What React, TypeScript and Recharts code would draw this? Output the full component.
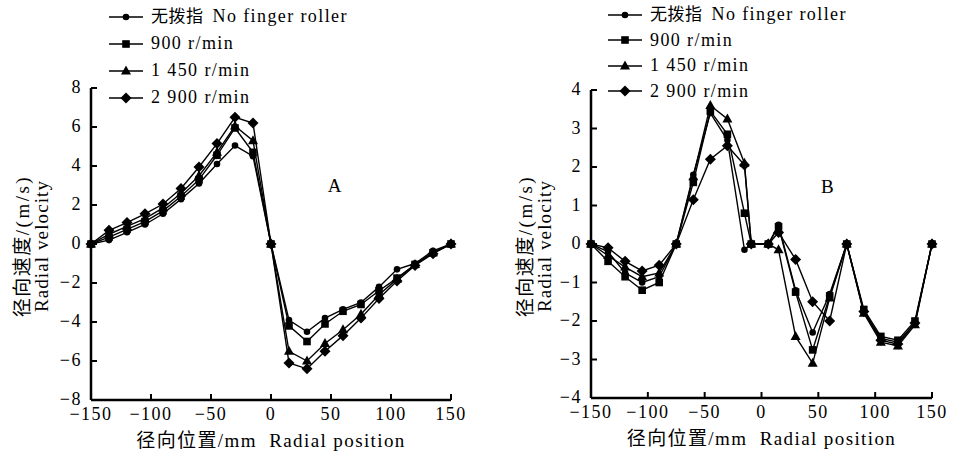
import React from 'react';
import {
  LineChart,
  Line,
  XAxis,
  YAxis,
  Legend,
  ReferenceDot,
} from 'recharts';

// radial positions (mm)
const posA = [-150, -135, -120, -105, -90, -75, -60, -45, -30, -15, 0, 15, 30, 45, 60, 75, 90, 105, 120, 135, 150];
const posB = [-150, -135, -120, -105, -90, -75, -60, -45, -30, -15, -9, 6, 15, 30, 45, 60, 75, 90, 105, 120, 135, 150];

// chart A radial velocity (m/s)
const noneA = [0, 0.2, 0.6, 1.0, 1.55, 2.3, 3.1, 4.1, 5.05, 4.5, 0, -3.9, -4.5, -3.8, -3.35, -3.0, -2.2, -1.3, -1.0, -0.35, 0];
const r900A = [0, 0.35, 0.75, 1.15, 1.7, 2.45, 3.3, 4.55, 5.95, 4.7, 0, -4.2, -5.0, -4.1, -3.45, -3.1, -2.4, -1.75, -1.05, -0.45, 0];
const r1450A = [0, 0.5, 0.9, 1.3, 1.85, 2.6, 3.5, 4.7, 6.05, 5.3, 0, -5.5, -6.0, -5.1, -4.4, -3.6, -2.6, -1.8, -1.05, -0.45, 0];
const r2900A = [0, 0.7, 1.1, 1.55, 2.05, 2.85, 3.95, 5.15, 6.5, 6.2, 0, -6.1, -6.4, -5.5, -4.7, -3.8, -2.8, -1.9, -1.1, -0.5, 0];

// chart B radial velocity (m/s)
const noneB = [0, -0.2, -0.75, -1.0, -0.85, 0, 1.8, 3.4, 2.7, -0.15, 0, 0, 0.5, -1.2, -2.3, -1.3, 0, -1.75, -2.45, -2.55, -2.05, 0];
const r900B = [0, -0.45, -0.85, -1.2, -1.0, 0, 1.6, 3.45, 2.85, 0.8, 0, 0, 0.45, -1.25, -2.75, -1.35, 0, -1.7, -2.4, -2.5, -2.0, 0];
const r1450B = [0, -0.3, -0.6, -0.85, -0.75, 0, 1.75, 3.6, 3.25, 2.1, 0, 0, -0.15, -2.4, -3.1, -1.4, 0, -1.8, -2.55, -2.65, -2.1, 0];
const r2900B = [0, -0.1, -0.45, -0.7, -0.55, 0, 1.15, 2.2, 2.55, 2.05, 0, 0, 0.3, -0.4, -1.5, -2.0, 0, -1.75, -2.5, -2.6, -2.05, 0];

const xTicks = [-150, -100, -50, 0, 50, 100, 150];
const yTicksA = [-8, -6, -4, -2, 0, 2, 4, 6, 8];
const yTicksB = [-4, -3, -2, -1, 0, 1, 2, 3, 4];

const seriesNames = ['无拨指  No finger roller', '900 r/min', '1 450 r/min', '2 900 r/min'];
const seriesKeys = ['none', 'r900', 'r1450', 'r2900'];
const markers = ['circle', 'square', 'triangle', 'diamond'];

const xLabelCn = '径向位置';
const xLabelEn = '/mm\u00a0\u00a0Radial position';
const yLabelCn = '径向速度';
const yLabelUnit = '/(m/s)';
const yLabelEn = 'Radial velocity';

const FONT = "'Liberation Serif', 'Noto Sans CJK SC', serif";

const buildRows = (pos: number[], cols: number[][]) =>
  pos.map((x, i) => ({
    x,
    none: cols[0][i],
    r900: cols[1][i],
    r1450: cols[2][i],
    r2900: cols[3][i],
  }));

const dataA = buildRows(posA, [noneA, r900A, r1450A, r2900A]);
const dataB = buildRows(posB, [noneB, r900B, r1450B, r2900B]);

const fmt = (v: number) => String(v).replace('-', '\u2212');

const MarkerShape = ({ cx, cy, kind }: any) => {
  if (cx == null || cy == null) return null;
  if (kind === 'circle') return <circle cx={cx} cy={cy} r={3.3} fill="#000" />;
  if (kind === 'square') return <rect x={cx - 3.8} y={cy - 3.8} width={7.6} height={7.6} fill="#000" />;
  if (kind === 'triangle')
    return <polygon points={`${cx},${cy - 5.5} ${cx + 5},${cy + 3.5} ${cx - 5},${cy + 3.5}`} fill="#000" />;
  return <polygon points={`${cx},${cy - 5.5} ${cx + 5.5},${cy} ${cx},${cy + 5.5} ${cx - 5.5},${cy}`} fill="#000" />;
};

const XTick = ({ x, y, payload }: any) => (
  <g>
    <line x1={x} x2={x} y1={y} y2={y - 6} stroke="#000" strokeWidth={2} />
    <text x={x} y={y + 20} textAnchor="middle" fontSize={18} letterSpacing={1.5} fill="#000" fontFamily={FONT}>
      {fmt(payload.value)}
    </text>
  </g>
);

const YTick = ({ x, y, payload }: any) => (
  <g>
    <line x1={x} x2={x + 6} y1={y} y2={y} stroke="#000" strokeWidth={2} />
    <text x={x - 9} y={y + 5} textAnchor="end" fontSize={18} letterSpacing={1.5} fill="#000" fontFamily={FONT}>
      {fmt(payload.value)}
    </text>
  </g>
);

const YLabel = ({ viewBox, left }: any) => {
  const cy = viewBox.y + viewBox.height / 2 + 2;
  const x1 = viewBox.x + left;
  const x2 = x1 + 19;
  return (
    <g fontFamily={FONT} fill="#000">
      <text x={x1} y={cy} transform={`rotate(-90 ${x1} ${cy})`} textAnchor="middle" dominantBaseline="central" fontSize={19}>
        <tspan letterSpacing={1.5}>{yLabelCn}</tspan>
        <tspan letterSpacing={2.5}>{yLabelUnit}</tspan>
      </text>
      <text x={x2} y={cy} transform={`rotate(-90 ${x2} ${cy})`} textAnchor="middle" dominantBaseline="central" fontSize={19} letterSpacing={1.1}>
        {yLabelEn}
      </text>
    </g>
  );
};

const XLabel = ({ viewBox }: any) => {
  const cx = viewBox.x + viewBox.width / 2;
  return (
    <text x={cx} y={viewBox.y + 47} textAnchor="middle" fontFamily={FONT} fontSize={19} letterSpacing={1.4} fill="#000">
      <tspan>{xLabelCn}</tspan>
      <tspan>{xLabelEn}</tspan>
    </text>
  );
};

const LegendBox = ({ gap }: { gap: number }) => (
  <div style={{ fontFamily: FONT, fontSize: 18, letterSpacing: 1.4, color: '#000', lineHeight: `${gap}px` }}>
    {seriesNames.map((name, i) => {
      const parts = name.split('  ');
      return (
        <div key={name} style={{ display: 'flex', alignItems: 'center', height: gap, whiteSpace: 'pre' }}>
          <svg width={38} height={14} style={{ marginRight: 5 }}>
            <line x1={1} x2={35} y1={7} y2={7} stroke="#000" strokeWidth={1.6} />
            <MarkerShape cx={18} cy={7} kind={markers[i]} />
          </svg>
          {parts.length > 1 ? (
            <span>
              <span style={{ fontSize: 17, letterSpacing: 0.5 }}>{parts[0]}</span>
              <span style={{ marginLeft: 9 }}>{parts[1]}</span>
            </span>
          ) : (
            <span>{name}</span>
          )}
        </div>
      );
    })}
  </div>
);

interface PanelProps {
  data: any[];
  width: number;
  yAxisWidth: number;
  top: number;
  right: number;
  plotHeight: number;
  yTicks: number[];
  yDomain: [number, number];
  legendLeft: number;
  legendTop: number;
  legendGap: number;
  tag: string;
  tagX: number;
  tagY: number;
  yLabelLeft: number;
}

const Panel = ({
  data,
  width,
  yAxisWidth,
  top,
  right,
  plotHeight,
  yTicks,
  yDomain,
  legendLeft,
  legendTop,
  legendGap,
  tag,
  tagX,
  tagY,
  yLabelLeft,
}: PanelProps) => (
  <LineChart width={width} height={458} data={data} margin={{ top, right, bottom: 0, left: 0 }}>
    <XAxis
      dataKey="x"
      type="number"
      domain={[-150, 150]}
      ticks={xTicks}
      interval={0}
      height={458 - top - plotHeight}
      tickSize={0}
      tickMargin={0}
      tickLine={false}
      tick={<XTick />}
      axisLine={{ stroke: '#000', strokeWidth: 2.5 }}
      label={<XLabel />}
    />
    <YAxis
      type="number"
      domain={yDomain}
      ticks={yTicks}
      interval={0}
      width={yAxisWidth}
      tickSize={0}
      tickMargin={0}
      tickLine={false}
      tick={<YTick />}
      axisLine={{ stroke: '#000', strokeWidth: 2.5 }}
      label={<YLabel left={yLabelLeft} />}
    />
    <Legend
      layout="vertical"
      align="center"
      verticalAlign="middle"
      wrapperStyle={{ left: legendLeft, top: legendTop, width: 'auto' }}
      content={() => <LegendBox gap={legendGap} />}
    />
    <ReferenceDot
      x={tagX}
      y={tagY}
      r={0}
      label={{ value: tag, position: 'center', fontSize: 19, fill: '#000', fontFamily: FONT }}
    />
    {seriesKeys.map((key, i) => (
      <Line
        key={key}
        dataKey={key}
        name={seriesNames[i]}
        type="linear"
        stroke="#000"
        strokeWidth={1.4}
        dot={<MarkerShape kind={markers[i]} />}
        activeDot={false}
        isAnimationActive={false}
      />
    ))}
  </LineChart>
);

export default function App() {
  return (
    <div style={{ position: 'absolute', left: 0, top: 0, width: 954, height: 458, background: '#fff', fontFamily: FONT }}>
      <div style={{ position: 'absolute', left: 0, top: 0 }}>
        <Panel
          data={dataA}
          width={472}
          yAxisWidth={91}
          top={88}
          right={21}
          plotHeight={312}
          yTicks={yTicksA}
          yDomain={[-8, 8]}
          legendLeft={108}
          legendTop={3}
          legendGap={27}
          tag="A"
          tagX={53}
          tagY={3}
          yLabelLeft={22}
        />
      </div>
      <div style={{ position: 'absolute', left: 480, top: 0 }}>
        <Panel
          data={dataB}
          width={474}
          yAxisWidth={111}
          top={90}
          right={22}
          plotHeight={308}
          yTicks={yTicksB}
          yDomain={[-4, 4]}
          legendLeft={127}
          legendTop={2}
          legendGap={25.5}
          tag="B"
          tagX={58}
          tagY={1.5}
          yLabelLeft={45}
        />
      </div>
    </div>
  );
}
